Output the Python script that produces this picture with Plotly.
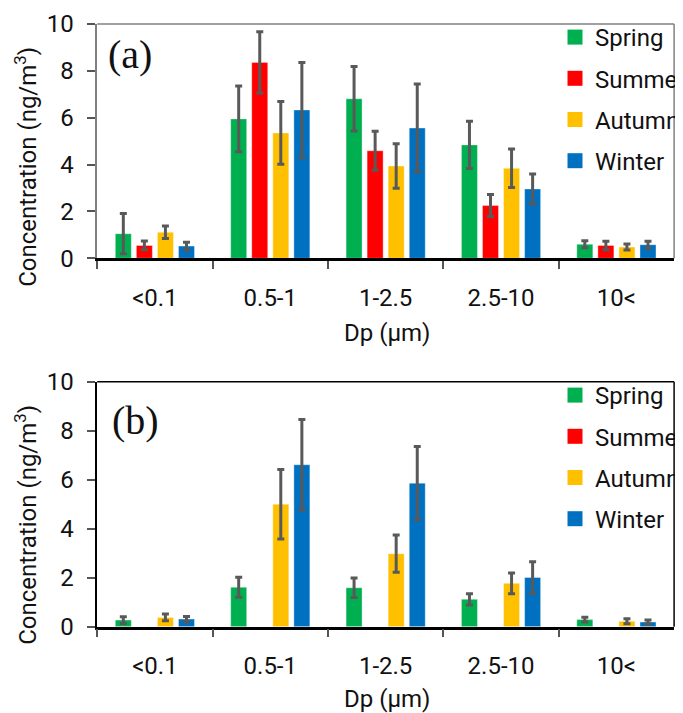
import plotly.graph_objects as go

categories = ["<0.1", "0.5-1", "1-2.5", "2.5-10", "10<"]
seasons = ["Spring", "Summer", "Autumn", "Winter"]
colors = ["#00B050", "#FF0000", "#FFC000", "#0070C0"]

# Panel (a)
a_spring = [1.05, 5.95, 6.81, 4.84, 0.60]
a_summer = [0.55, 8.36, 4.59, 2.25, 0.55]
a_autumn = [1.11, 5.35, 3.94, 3.84, 0.48]
a_winter = [0.52, 6.33, 5.56, 2.96, 0.58]
a_spring_err = [0.86, 1.40, 1.38, 1.01, 0.15]
a_summer_err = [0.19, 1.31, 0.83, 0.47, 0.18]
a_autumn_err = [0.27, 1.34, 0.95, 0.82, 0.13]
a_winter_err = [0.17, 2.03, 1.88, 0.64, 0.15]

# Panel (b)
b_spring = [0.27, 1.61, 1.59, 1.12, 0.29]
b_summer = [None, None, None, None, None]
b_autumn = [0.38, 5.00, 2.98, 1.77, 0.22]
b_winter = [0.31, 6.61, 5.86, 2.01, 0.19]
b_spring_err = [0.14, 0.41, 0.40, 0.23, 0.10]
b_summer_err = [0, 0, 0, 0, 0]
b_autumn_err = [0.14, 1.42, 0.76, 0.42, 0.10]
b_winter_err = [0.11, 1.85, 1.49, 0.64, 0.08]

y_ticks = [0, 2, 4, 6, 8, 10]

W, H = 683, 713
OFF = 8  # page body margin
def px(x):
    return (x - OFF) / W
def py(y):
    return 1 - (y - OFF) / H

FONT = "Roboto, 'Noto Sans', sans-serif"
TXT = "#111111"
ERRC = "#595959"

fig = go.Figure()

panels = [
    ("x", "y", "legend", [a_spring, a_summer, a_autumn, a_winter],
     [a_spring_err, a_summer_err, a_autumn_err, a_winter_err]),
    ("x2", "y2", "legend2", [b_spring, b_summer, b_autumn, b_winter],
     [b_spring_err, b_summer_err, b_autumn_err, b_winter_err]),
]

for xa, ya, lg, vals, errs in panels:
    for s, c, v, e in zip(seasons, colors, vals, errs):
        fig.add_trace(go.Bar(
            x=categories, y=v, name=s, xaxis=xa, yaxis=ya, showlegend=False,
            marker=dict(color=c, line=dict(width=0.8, color="rgba(255,255,255,0.45)")),
            error_y=dict(type="data", array=e, color=ERRC, thickness=3, width=3.5,
                         visible=True),
        ))
    # legend entries (square swatches)
    for s, c in zip(seasons, colors):
        fig.add_trace(go.Scatter(
            x=[None], y=[None], name=s, xaxis=xa, yaxis=ya, legend=lg,
            legendgroup=lg + s, mode="markers", showlegend=True,
            marker=dict(symbol="square", size=15, color=c, line=dict(width=0)),
        ))

xdom = [px(98), px(680)]
doms = {"a": [py(258.3), py(24)], "b": [py(626.7), py(381.7)]}

def xaxis_cfg(anchor):
    return dict(domain=xdom, anchor=anchor, type="category",
                categoryorder="array", categoryarray=categories,
                range=[-0.5, 4.5], tickson="boundaries", ticks="outside",
                ticklen=8, tickwidth=1.5, tickcolor="#555555",
                showline=True, linecolor="#000000", linewidth=2.5,
                showgrid=False, zeroline=False, automargin=False,
                tickfont=dict(family=FONT, size=24, color=TXT),
                ticklabelstandoff=16)

def yaxis_cfg(anchor, dom, lc):
    return dict(domain=dom, anchor=anchor, range=[0, 10], tickvals=y_ticks,
                ticks="outside", ticklen=8, tickwidth=1.5, tickcolor="#555555",
                showline=True, linecolor=lc, linewidth=1.5,
                showgrid=False, zeroline=False, automargin=False,
                tickfont=dict(family=FONT, size=24, color=TXT),
                ticklabelstandoff=9)

def legend_cfg(ytop):
    return dict(x=px(560), y=py(ytop), xanchor="left", yanchor="top",
                font=dict(family=FONT, size=24, color=TXT),
                bgcolor="rgba(0,0,0,0)", tracegroupgap=7, itemwidth=30,
                itemsizing="trace")

fig.update_layout(
    width=W, height=H,
    margin=dict(l=0, r=0, t=0, b=0),
    paper_bgcolor="white", plot_bgcolor="white",
    barmode="group", bargap=0.27, bargroupgap=0.24,
    xaxis=xaxis_cfg("y"), yaxis=yaxis_cfg("x", doms["a"], "#808080"),
    xaxis2=xaxis_cfg("y2"), yaxis2=yaxis_cfg("x2", doms["b"], "#000000"),
    legend=legend_cfg(15), legend2=legend_cfg(373),
    showlegend=True,
)

# frame top & right lines
for xr, yr, lc in [("x domain", "y domain", "#808080"), ("x2 domain", "y2 domain", "#000000")]:
    fig.add_shape(type="line", xref=xr, yref=yr, x0=0, x1=1, y0=1, y1=1,
                  line=dict(color=lc, width=1.5))
    fig.add_shape(type="line", xref=xr, yref=yr, x0=1, x1=1, y0=0, y1=1,
                  line=dict(color=lc, width=1.5))

annots = [
    dict(text="(a)", x=px(131), y=py(55)),
    dict(text="(b)", x=px(137), y=py(420)),
]
for a in annots:
    fig.add_annotation(xref="paper", yref="paper", showarrow=False,
                       xanchor="center", yanchor="middle",
                       font=dict(family="'Liberation Serif', 'DejaVu Serif', serif", size=40, color=TXT),
                       **a)

for yc in [167, 525]:
    fig.add_annotation(xref="paper", yref="paper", x=px(26), y=py(yc),
                       text="Concentration (ng/m<sup>3</sup>)", textangle=-90,
                       showarrow=False, xanchor="center", yanchor="middle",
                       font=dict(family=FONT, size=24, color=TXT))
for yc in [333, 699]:
    fig.add_annotation(xref="paper", yref="paper", x=px(390), y=py(yc),
                       text="Dp (µm)", showarrow=False,
                       xanchor="center", yanchor="middle",
                       font=dict(family=FONT, size=24, color=TXT))

fig.write_html("out.html")
